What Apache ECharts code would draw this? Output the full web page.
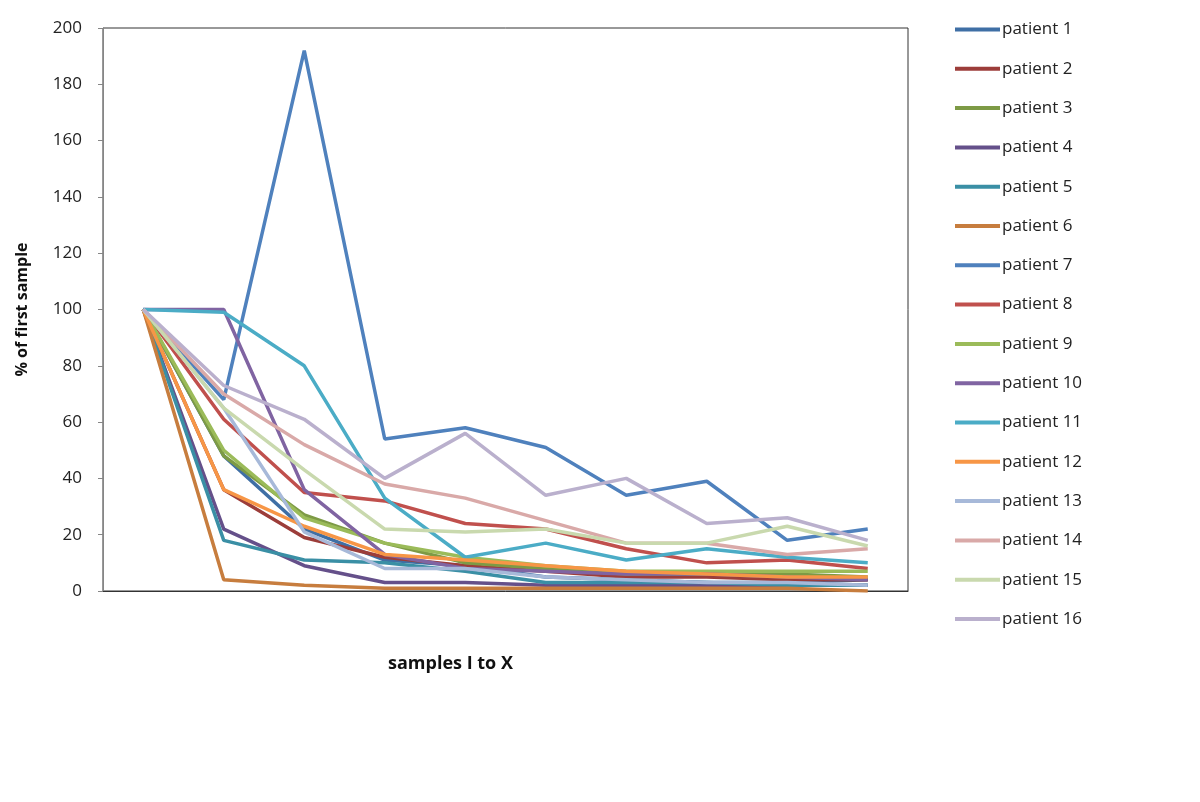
<!DOCTYPE html>
<html style="height: 100%">
    <head>
        <meta charset="utf-8">
    </head>
    <body style="height: 100%; margin: 0; background: #fff">
        <div id="container" style="width: 1200px; height: 802px"></div>
        <script type="text/javascript" src="https://cdn.jsdelivr.net/npm/echarts@6/dist/echarts.min.js"></script>
    </body>
</html>
<script type="text/javascript">
    var samples = ['I', 'II', 'III', 'IV', 'V', 'VI', 'VII', 'VIII', 'IX', 'X'];

    var patient1 = [100, 48, 22, 11, 9, 5, 4, 3, 3, 4];
    var patient2 = [100, 36, 19, 12, 9, 7, 5, 5, 4, 4];
    var patient3 = [100, 48, 27, 17, 10, 8, 6, 6, 6, 5];
    var patient4 = [100, 22, 9, 3, 3, 2, 2, 2, 2, 2];
    var patient5 = [100, 18, 11, 10, 7, 3, 3, 3, 2, 2];
    var patient6 = [100, 4, 2, 1, 1, 1, 1, 1, 1, 0];
    var patient7 = [100, 68, 192, 54, 58, 51, 34, 39, 18, 22];
    var patient8 = [100, 61, 35, 32, 24, 22, 15, 10, 11, 8];
    var patient9 = [100, 50, 26, 17, 12, 9, 7, 7, 7, 7];
    var patient10 = [100, 100, 36, 13, 8, 7, 6, 6, 5, 4];
    var patient11 = [100, 99, 80, 33, 12, 17, 11, 15, 12, 10];
    var patient12 = [100, 36, 23, 13, 11, 9, 7, 6, 5, 5];
    var patient13 = [100, 65, 21, 8, 8, 5, 4, 3, 3, 2];
    var patient14 = [100, 70, 52, 38, 33, 25, 17, 17, 13, 15];
    var patient15 = [100, 65, 43, 22, 21, 22, 17, 17, 23, 16];
    var patient16 = [100, 73, 61, 40, 56, 34, 40, 24, 26, 18];

    var yTicks = [0, 20, 40, 60, 80, 100, 120, 140, 160, 180, 200];

    var names = ['patient 1', 'patient 2', 'patient 3', 'patient 4', 'patient 5', 'patient 6',
        'patient 7', 'patient 8', 'patient 9', 'patient 10', 'patient 11', 'patient 12',
        'patient 13', 'patient 14', 'patient 15', 'patient 16'];
    var values = [patient1, patient2, patient3, patient4, patient5, patient6, patient7, patient8,
        patient9, patient10, patient11, patient12, patient13, patient14, patient15, patient16];
    var colors = ['#3F6FA5', '#9C3D3A', '#7D9A45', '#65508A', '#3A8FA5', '#C77D3E',
        '#4F81BD', '#C0504D', '#9BBB59', '#8064A2', '#4BACC6', '#F79646',
        '#A7B9D9', '#D9A9A8', '#C9D9AE', '#BAB0CD'];

    var dom = document.getElementById("container");
    var myChart = echarts.init(dom);
    var font = 'Open Sans, Noto Sans, sans-serif';

    var series = [];
    for (var i = 0; i < names.length; i++) {
        series.push({
            name: names[i],
            type: 'line',
            data: values[i],
            symbol: 'none',
            smooth: false,
            lineStyle: { width: 3.5, color: colors[i] },
            itemStyle: { color: colors[i] }
        });
    }

    var option = {
        animation: false,
        color: colors,
        title: {
            text: 'samples I to X',
            left: 383,
            top: 650,
            textStyle: { fontFamily: font, fontSize: 18, fontWeight: 'bold', color: '#111' }
        },
        legend: {
            orient: 'vertical',
            left: 955,
            top: 21,
            padding: 0,
            icon: 'rect',
            itemWidth: 45,
            itemHeight: 4,
            itemGap: 22.3,
            textStyle: { fontFamily: font, fontSize: 17, color: '#222', padding: [0, 0, 0, -3] },
            data: names
        },
        grid: {
            left: 103,
            top: 28,
            right: 292,
            bottom: 211,
            show: true,
            borderColor: '#333',
            borderWidth: 1
        },
        xAxis: {
            type: 'category',
            data: samples,
            boundaryGap: true,
            axisLabel: { show: false },
            axisTick: { show: false },
            axisLine: { lineStyle: { color: '#333' } }
        },
        yAxis: {
            type: 'value',
            min: yTicks[0],
            max: yTicks[yTicks.length - 1],
            interval: 20,
            name: '% of first sample',
            nameLocation: 'middle',
            nameGap: 73,
            nameTextStyle: { fontFamily: font, fontSize: 16, fontWeight: 'bold', color: '#111' },
            axisLine: { show: true, lineStyle: { color: '#868686' } },
            axisTick: { show: true, length: 5, lineStyle: { color: '#868686' } },
            axisLabel: { fontFamily: font, fontSize: 17, color: '#222', margin: 21 },
            splitLine: { show: false }
        },
        series: series
    };

    myChart.setOption(option);
</script>
